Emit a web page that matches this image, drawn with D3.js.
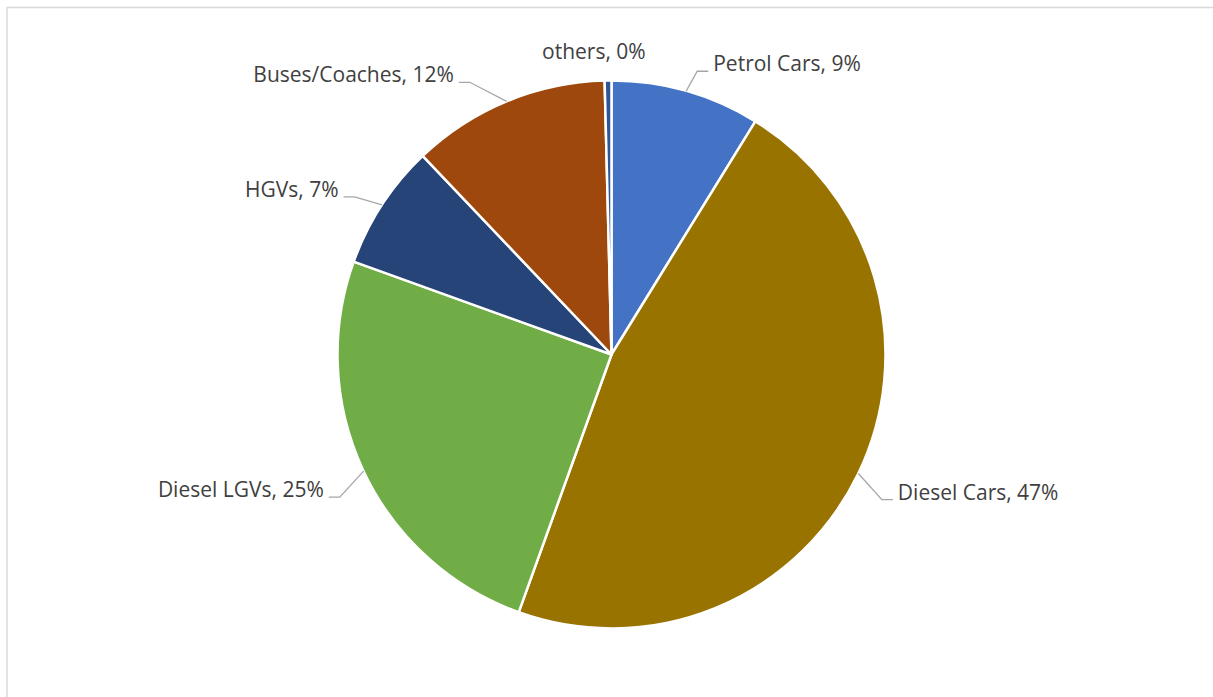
<!DOCTYPE html>
<html>
<head>
<meta charset="utf-8">
<script src="https://cdn.jsdelivr.net/npm/d3@7"></script>
<style>
  html, body { margin: 0; padding: 0; background: #fff; }
  .slice-label { font-family: "Open Sans", "Noto Sans", sans-serif; font-size: 21px; fill: #404040; }
</style>
</head>
<body>
<svg id="pie-chart"></svg>
<script>
/* Data */
const categories = ["Petrol Cars", "Diesel Cars", "Diesel LGVs", "HGVs", "Buses/Coaches", "others"];
const shares = [8.8, 46.7, 25.0, 7.4, 11.7, 0.4];
const colours = ["#4472C4", "#997300", "#70AD47", "#264478", "#9E480E", "#2F5597"];

/* Label layout tweaks (degrees, radius factor), like dragged Excel labels */
const labelTweak = [
    { dA: 1, r: 1.08 },
    { dA: 2.5, r: 1.12 },
    { dA: -2.5, r: 1.12 },
    { dA: -1.6, r: 1.1 },
    { dA: -5, r: 1.12 },
    { dA: -2.7, r: 1.08 }
];

const width = 1213;
const height = 697;
const cx = 611.5, cy = 354.5, radius = 274;

const svg = d3.select("#pie-chart")
    .attr("width", width)
    .attr("height", height);

/* chart area border (runs off the right and bottom) */
svg.append("rect")
    .attr("x", 7).attr("y", 7.5)
    .attr("width", 1400).attr("height", 900)
    .attr("fill", "none")
    .attr("stroke", "#d9d9d9")
    .attr("stroke-width", 1.5);

const data = categories.map((c, i) => ({ name: c, value: shares[i], colour: colours[i], tweak: labelTweak[i] }));
const total = d3.sum(shares);

const pie = d3.pie().sort(null).value(d => d.value);
const arc = d3.arc().innerRadius(0).outerRadius(radius);
const arcs = pie(data);

const g = svg.append("g").attr("transform", `translate(${cx},${cy})`);

g.selectAll("path.slice")
    .data(arcs)
    .join("path")
      .attr("class", "slice")
      .attr("d", arc)
      .attr("fill", d => d.data.colour)
      .attr("stroke", "#fff")
      .attr("stroke-width", 2.5)
      .attr("stroke-linejoin", "round");

/* Labels with leader lines */
const polar = (ang, r) => [r * Math.sin(ang), -r * Math.cos(ang)];

arcs.forEach(d => {
    const mid = (d.startAngle + d.endAngle) / 2;
    const start = polar(mid, radius);
    const elbow = polar(mid + d.data.tweak.dA * Math.PI / 180, radius * d.data.tweak.r);
    const right = elbow[0] > 0;
    const hx = elbow[0] + (right ? 11 : -11);
    const pct = Math.round(d.data.value / total * 100);
    const tiny = d.data.value < 1;

    if (!tiny) {
        g.append("polyline")
            .attr("points", [start, elbow, [hx, elbow[1]]].map(p => p.join(",")).join(" "))
            .attr("fill", "none")
            .attr("stroke", "#a6a6a6")
            .attr("stroke-width", 1.3);
    }

    g.append("text")
        .attr("class", "slice-label")
        .attr("x", tiny ? elbow[0] : hx + (right ? 5 : -5))
        .attr("y", elbow[1])
        .attr("text-anchor", tiny ? "middle" : (right ? "start" : "end"))
        .text(`${d.data.name}, ${pct}%`);
});
</script>
</body>
</html>
